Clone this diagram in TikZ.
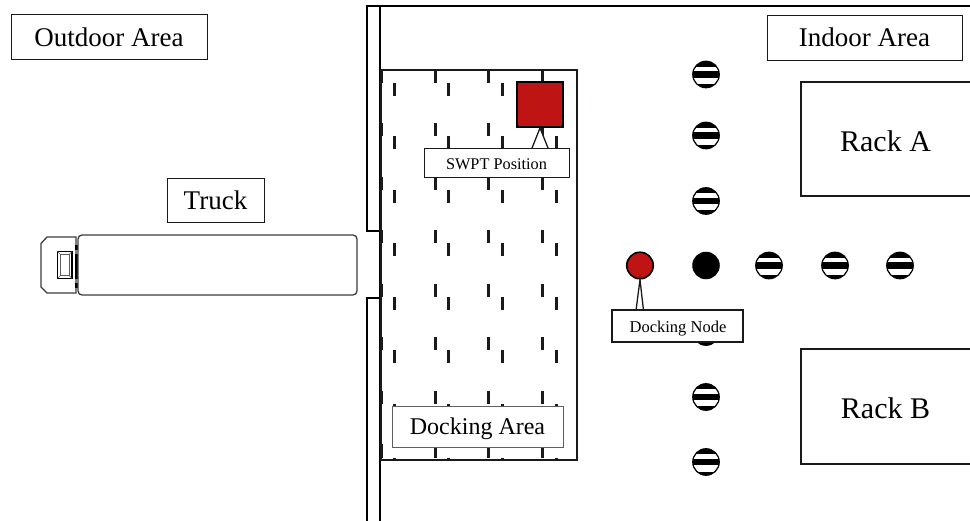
\documentclass[tikz,border=0pt]{standalone}
\usepackage{fontspec}
\setmainfont{Liberation Serif}
\usetikzlibrary{calc}
\definecolor{swptred}{HTML}{BE1414}
\definecolor{ink}{HTML}{1A1A1A}
\newcommand{\tsize}[1]{\fontsize{#1}{#1}\selectfont}
\tikzset{
  labelbox/.style={draw=ink,line width=0.9pt,fill=white,inner sep=0pt,anchor=center},
  rackbox/.style={draw=ink,line width=1.2pt,fill=white,inner sep=0pt},
  wall/.style={draw=black,line width=2pt},
  slot/.style={draw=ink,line width=3pt},
  callout/.style={draw=ink,line width=1.3pt,fill=white,line join=miter},
  stripedot/.style={circle,draw=black,line width=1.2pt,fill=white,minimum size=26.5pt,inner sep=0pt,
    path picture={
      \fill[black] ($(path picture bounding box.center)+(-15,-15)$) rectangle ($(path picture bounding box.center)+(15,-7.6)$);
      \fill[black] ($(path picture bounding box.center)+(-15,-3.2)$) rectangle ($(path picture bounding box.center)+(15,3.2)$);
      \fill[black] ($(path picture bounding box.center)+(-15,9.5)$) rectangle ($(path picture bounding box.center)+(15,15)$);
    }},
  soliddot/.style={circle,draw=black,line width=1pt,fill=black,minimum size=26.5pt,inner sep=0pt},
  reddot/.style={circle,draw=black,line width=1.6pt,fill=swptred,minimum size=26.5pt,inner sep=0pt}
}
\begin{document}
\begin{tikzpicture}[x=1pt,y=-1pt]
\useasboundingbox (0,0) rectangle (970,521);
\fill[white] (0,0) rectangle (970,521);

% walls
\draw[wall] (380,231) -- (367,231) -- (367,6) -- (970,6);
\draw[wall] (380,6) -- (380,521);
\draw[wall] (367,521) -- (367,298) -- (380,298);

% docking area
\begin{scope}
\clip (379,70) rectangle (577,460);
\foreach \y in {70,123.5,177,230.5,284,337.5,391,444.5}{
  \foreach \x in {381,435,488.5,542}{
    \draw[slot] (\x,\y) -- (\x,\y+13);
  }
  \foreach \x in {394.5,448,502,556}{
    \draw[slot] (\x,\y+13) -- (\x,\y+26);
  }
}
\end{scope}
\node (dockarea) [draw=ink,line width=1.5pt,minimum width=196pt,minimum height=390pt,inner sep=0pt] at (479,265) {};

% racks
\node (rackA) [rackbox,minimum width=180pt,minimum height=114pt,text depth=0pt] at (891,139) {};
\node (rackB) [rackbox,minimum width=180pt,minimum height=115pt] at (891,406.5) {};
\node at (885.5,141) {\tsize{30}Rack A};
\node at (885.5,408) {\tsize{30}Rack B};

% truck
\draw[draw=ink!85,line width=1.3pt,fill=white] (41,243.5) -- (47,237) -- (76,237) -- (76,293) -- (47,293) -- (41,287) -- cycle;
\draw[black,line width=1.5pt] (57.5,251.5) rectangle (72,278.5);
\draw[ink!70,line width=0.9pt] (60.5,254.5) rectangle (69,275.5);
\draw[ink!70,line width=0.6pt] (57.5,251.5) -- (60.5,254.5) (72,251.5) -- (69,254.5) (57.5,278.5) -- (60.5,275.5) (72,278.5) -- (69,275.5);
\fill[black] (75,245) rectangle (79,250);
\fill[black] (75,254) rectangle (79,279);
\fill[black] (75,283) rectangle (79,288);
\node (trailer) [draw=ink!85,line width=1.3pt,fill=white,rounded corners=4pt,minimum width=279pt,minimum height=60pt,inner sep=0pt] at (217.5,265) {};

% markers
\node (s1) [stripedot] at (706,74.5) {};
\node (s2) [stripedot] at (706,135.5) {};
\node (s3) [stripedot] at (706,201) {};
\node (center) [soliddot] at (706,265.5) {};
\node (dock) [reddot] at (640,265.5) {};
\node (s4) [stripedot] at (769,265.5) {};
\node (s5) [stripedot] at (835,265.5) {};
\node (s6) [stripedot] at (900,265.5) {};
\node (s7) [stripedot] at (706,332) {};
\node (s8) [stripedot] at (706,397) {};
\node (s9) [stripedot] at (706,462) {};

% SWPT position
\node (swptsq) [draw=black,line width=2pt,fill=swptred,minimum width=46pt,minimum height=45pt,inner sep=0pt] at (540,104.5) {};
\coordinate (swptL) at (532,148);
\coordinate (swptR) at (548,148);
\filldraw[callout] (swptL) -- (swptsq.south) -- (swptR);
\node (swptlab) [labelbox,minimum width=145pt,minimum height=29pt] at (496.5,162.5) {};
\node at (496.5,164) {\tsize{16.3}SWPT Position};

% docking node callout
\coordinate (dockL) at (636,310.5);
\coordinate (dockR) at (643.5,310.5);
\filldraw[callout] (dockL) -- (dock.south) -- (dockR);
\node (docklab) [labelbox,line width=1.3pt,minimum width=131pt,minimum height=32pt] at (677.5,326) {};
\node at (678,328.5) {\tsize{16.5}Docking Node};

% labels
\node (dalab) [labelbox,draw=ink!70,minimum width=171pt,minimum height=41pt] at (477.5,426.5) {};
\node at (477.5,429) {\tsize{24}Docking Area};
\node (outdoor) [labelbox,minimum width=196pt,minimum height=45pt] at (109,36.5) {};
\node at (109,37.5) {\tsize{27}Outdoor Area};
\node (indoor) [labelbox,minimum width=195pt,minimum height=45pt] at (864.5,37.5) {\tsize{27}Indoor Area};
\node (truck) [labelbox,minimum width=97pt,minimum height=44pt] at (215.5,200) {\tsize{27}Truck};
\end{tikzpicture}
\end{document}
